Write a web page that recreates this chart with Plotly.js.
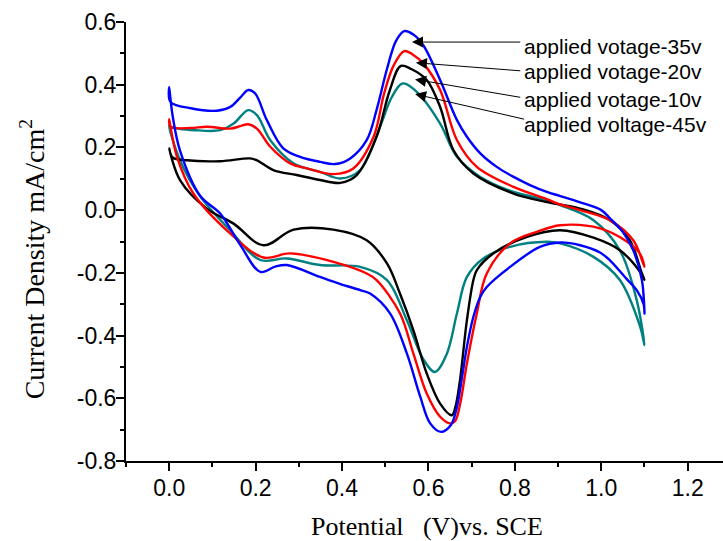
<!DOCTYPE html>
<html>
<head>
<meta charset="utf-8">
<script src="https://cdn.plot.ly/plotly-3.0.1.min.js"></script>
<style>html,body{margin:0;padding:0;background:#fff;}#chart{width:723px;height:541px;}</style>
</head>
<body>
<div id="chart"></div>
<script>
// ---- data (potential V vs SCE, current density mA/cm2) ----
const names = ["applied votage-35v", "applied votage-20v", "applied votage-10v", "applied voltage-45v"];
const colors = ["#0000FF", "#FF0000", "#000000", "#008080"];

const x35 = [0,0.003,0.05,0.11,0.141,0.165,0.183,0.199,0.226,0.264,0.303,0.349,0.384,0.419,0.457,0.48,0.504,0.525,0.544,0.565,0.588,0.627,0.666,0.689,0.72,0.758,0.797,0.835,0.874,0.905,0.951,1.0,1.02,1.05,1.074,1.094,1.1,
  1.098,1.082,1.059,1.02,0.997,0.951,0.905,0.858,0.789,0.735,0.72,0.704,0.689,0.678,0.666,0.652,0.629,0.604,0.581,0.55,0.511,0.465,0.442,0.395,0.349,0.272,0.245,0.211,0.164,0.118,0.072,0.025,0.008,0];
const y35 = [0.392,0.345,0.325,0.317,0.329,0.36,0.383,0.372,0.287,0.197,0.17,0.154,0.147,0.165,0.223,0.32,0.45,0.54,0.571,0.56,0.526,0.415,0.287,0.234,0.181,0.138,0.106,0.08,0.058,0.045,0.025,0.0,-0.026,-0.07,-0.128,-0.223,-0.33,
  -0.30,-0.255,-0.22,-0.16,-0.135,-0.112,-0.103,-0.117,-0.181,-0.245,-0.276,-0.34,-0.436,-0.53,-0.627,-0.685,-0.707,-0.68,-0.595,-0.457,-0.329,-0.266,-0.255,-0.235,-0.213,-0.175,-0.18,-0.197,-0.11,-0.011,0.045,0.19,0.3,0.392];

const x20 = [0,0.003,0.05,0.087,0.141,0.165,0.183,0.203,0.234,0.28,0.319,0.38,0.426,0.473,0.497,0.519,0.544,0.565,0.588,0.627,0.666,0.712,0.797,0.874,0.905,0.951,1.02,1.074,1.097,1.1,
  1.09,1.059,0.997,0.905,0.851,0.789,0.735,0.712,0.689,0.673,0.662,0.65,0.627,0.596,0.565,0.534,0.48,0.457,0.38,0.28,0.218,0.141,0.056,0.018,0];
const y20 = [0.29,0.266,0.262,0.266,0.26,0.268,0.274,0.26,0.202,0.149,0.133,0.115,0.133,0.234,0.37,0.46,0.507,0.495,0.468,0.383,0.223,0.138,0.074,0.035,0.018,0.0,-0.032,-0.096,-0.17,-0.18,
  -0.14,-0.1,-0.058,-0.048,-0.069,-0.106,-0.202,-0.329,-0.489,-0.62,-0.672,-0.68,-0.659,-0.585,-0.457,-0.329,-0.223,-0.202,-0.165,-0.138,-0.151,-0.074,0.053,0.17,0.29];

const x10 = [0,0.008,0.041,0.118,0.187,0.203,0.241,0.295,0.349,0.396,0.434,0.48,0.51,0.536,0.56,0.596,0.627,0.658,0.704,0.797,0.874,0.951,1.02,1.066,1.094,1.1,
  1.09,1.043,0.982,0.905,0.828,0.75,0.712,0.704,0.689,0.673,0.662,0.654,0.627,0.596,0.565,0.534,0.504,0.457,0.38,0.288,0.218,0.149,0.087,0.025,0];
const y10 = [0.197,0.168,0.159,0.156,0.165,0.159,0.128,0.112,0.096,0.087,0.112,0.234,0.38,0.46,0.45,0.415,0.329,0.191,0.117,0.053,0.026,0.005,-0.032,-0.096,-0.202,-0.222,
  -0.197,-0.128,-0.088,-0.064,-0.085,-0.138,-0.191,-0.223,-0.351,-0.542,-0.63,-0.654,-0.617,-0.521,-0.383,-0.266,-0.17,-0.096,-0.062,-0.062,-0.112,-0.043,0.005,0.096,0.197];

const x45 = [0,0.005,0.06,0.118,0.149,0.183,0.203,0.234,0.288,0.349,0.396,0.442,0.488,0.515,0.54,0.573,0.627,0.666,0.72,0.797,0.874,0.905,0.982,1.043,1.082,1.1,
  1.09,1.043,0.982,0.905,0.874,0.789,0.727,0.689,0.666,0.642,0.615,0.588,0.55,0.504,0.442,0.349,0.272,0.211,0.141,0.072,0.025,0];
const y45 = [0.271,0.265,0.255,0.255,0.276,0.319,0.303,0.223,0.149,0.122,0.101,0.128,0.266,0.36,0.404,0.377,0.276,0.17,0.106,0.058,0.032,0.016,-0.032,-0.128,-0.287,-0.43,
  -0.372,-0.223,-0.149,-0.106,-0.101,-0.117,-0.154,-0.213,-0.329,-0.46,-0.516,-0.475,-0.351,-0.223,-0.181,-0.175,-0.154,-0.159,-0.064,0.043,0.159,0.271];

const xTickVals = [0.0,0.2,0.4,0.6,0.8,1.0,1.2];
const yTickVals = [-0.8,-0.6,-0.4,-0.2,0.0,0.2,0.4,0.6];

const xs = [x35, x20, x10, x45];
const ys = [y35, y20, y10, y45];

const traces = xs.map((xv, i) => ({
  x: xv, y: ys[i], type: 'scatter', mode: 'lines', name: names[i],
  line: {color: colors[i], width: 2.4, shape: 'spline', smoothing: 1.0},
  hoverinfo: 'skip'
}));
// draw order: teal, black, red, blue on top
const ordered = [traces[3], traces[2], traces[1], traces[0]];

// label/arrow placement
const labelPos = [
  {tx: 0.817, ty: 0.521, hx: 0.562, hy: 0.536, ax: 0.816, ay: 0.536},
  {tx: 0.817, ty: 0.441, hx: 0.571, hy: 0.470, ax: 0.816, ay: 0.444},
  {tx: 0.817, ty: 0.354, hx: 0.569, hy: 0.417, ax: 0.816, ay: 0.359},
  {tx: 0.817, ty: 0.274, hx: 0.569, hy: 0.370, ax: 0.825, ay: 0.289}
];
const annotations = [];
labelPos.forEach((p, i) => {
  annotations.push({x: p.tx, y: p.ty, xref: 'x', yref: 'y', text: names[i], showarrow: false,
    xanchor: 'left', yanchor: 'middle', font: {family: 'Liberation Sans, Arial, sans-serif', size: 21, color: '#000'}});
  annotations.push({x: p.hx, y: p.hy, xref: 'x', yref: 'y', ax: p.ax, ay: p.ay, axref: 'x', ayref: 'y',
    text: '', showarrow: true, arrowhead: 2, arrowsize: 2.2, arrowwidth: 1, arrowcolor: '#000'});
});
annotations.push({xref: 'paper', yref: 'paper', x: -0.157, y: 0.46, xanchor: 'center', yanchor: 'middle',
  textangle: -90, showarrow: false, text: 'Current Density mA/cm<sup>2</sup>',
  font: {family: 'Liberation Serif, Times New Roman, serif', size: 28, color: '#000'}});
annotations.push({xref: 'paper', yref: 'paper', x: 0.505, y: -0.15, xanchor: 'center', yanchor: 'middle',
  showarrow: false, text: 'Potential &nbsp;&nbsp;(V)vs. SCE',
  font: {family: 'Liberation Serif, Times New Roman, serif', size: 26, color: '#000'}});

const layout = {
  width: 723, height: 541,
  margin: {l: 126, r: 0, t: 22, b: 80, pad: 0},
  paper_bgcolor: '#fff', plot_bgcolor: '#fff',
  showlegend: false,
  font: {family: 'Liberation Sans, Arial, sans-serif', size: 23, color: '#000'},
  xaxis: {
    range: [-0.1, 1.2817], tickvals: xTickVals, ticktext: xTickVals.map(v => v.toFixed(1)),
    ticks: 'outside', ticklen: 8, tickwidth: 2, tickcolor: '#000', ticklabelstandoff: -3,
    minor: {dtick: 0.1, tick0: 0, ticks: 'outside', ticklen: 4, tickwidth: 2, tickcolor: '#000'},
    showline: true, linewidth: 2, linecolor: '#000', showgrid: false, zeroline: false,
    tickfont: {size: 23}
  },
  xaxis2: {
    overlaying: 'x', side: 'top', anchor: 'y', range: [0, 9.835], dtick: 1, tick0: 0,
    ticks: 'inside', ticklen: 3, tickwidth: 1, tickcolor: '#000', showticklabels: false,
    showline: true, linewidth: 2, linecolor: '#000', showgrid: false, zeroline: false
  },
  yaxis: {
    range: [-0.8, 0.6], tickvals: yTickVals, ticktext: yTickVals.map(v => v.toFixed(1)),
    ticks: 'outside', ticklen: 8, tickwidth: 2, tickcolor: '#000', ticklabelstandoff: -5,
    minor: {dtick: 0.1, tick0: 0, ticks: 'outside', ticklen: 4, tickwidth: 2, tickcolor: '#000'},
    showline: true, linewidth: 2, linecolor: '#000', showgrid: false, zeroline: false,
    tickfont: {size: 23}
  },
  annotations: annotations
};

Plotly.newPlot('chart', ordered, layout, {displayModeBar: false, staticPlot: true});
</script>
</body>
</html>
